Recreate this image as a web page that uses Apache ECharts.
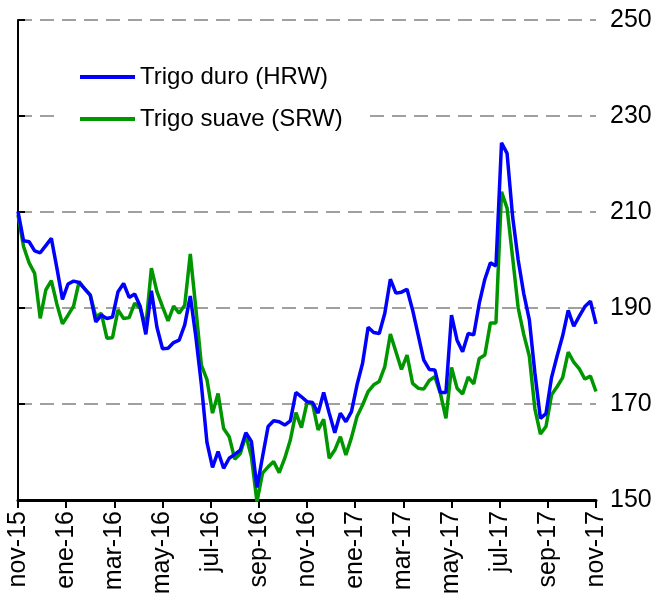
<!DOCTYPE html>
<html>
<head>
<meta charset="utf-8">
<script src="https://cdn.jsdelivr.net/npm/echarts@6/dist/echarts.min.js"></script>
<style>html,body{margin:0;padding:0;background:#fff}#c{width:663px;height:593px}</style>
</head>
<body>
<div id="c"></div>
<script>
var tickLabels = ['nov-15','ene-16','mar-16','may-16','jul-16','sep-16','nov-16','ene-17','mar-17','may-17','jul-17','sep-17','nov-17'];
var seriesNames = ['Trigo duro (HRW)', 'Trigo suave (SRW)'];
// weekly values, nov-15 .. nov-17
var hrw = [210.1,204,203.8,201.9,201.5,203,204.5,198.3,191.8,195,195.6,195.3,194,192.7,187.1,188.5,187.8,188.1,193.4,195.1,
192.2,192.9,190.3,184.5,193.6,186,181.5,181.6,182.8,183.3,186.5,192.5,184,174,162,156.8,160.1,156.6,158.7,159.5,
160.4,164,162.2,152.6,159,165.3,166.5,166.3,165.6,166.5,172.4,171.5,170.5,170.3,168.1,172.4,168.1,164,168.1,166.3,
168.4,174,178.5,186,184.9,184.7,188.9,196,193.1,193.3,193.9,189.6,184.4,179.2,177.2,177.1,172.4,172.4,188.5,183.3,
180.9,184.7,184.4,191,196,199.4,198.75,224.4,222.2,209,200,193,187.6,176.5,167,168,175.5,180,184.2,189.5,
186.2,188.3,190.3,191.4,186.7];
var srw = [209.4,202.8,199.4,197.2,187.85,193.75,195.7,190.8,186.7,188.5,190.4,195.5,194,192.7,188.2,188.9,183.7,183.8,189.6,187.8,
188,191,189.9,186.1,198.3,193.4,190.3,187.3,190.4,188.9,190.6,201.25,189.9,178.1,175.1,168.1,172.2,164.9,163.2,158.5,
159.7,163.5,159,149.65,155.6,156.9,158,155.7,158.7,162.5,168.2,165.1,170.3,170,164.6,166.8,158.7,160.4,163.2,159.4,
163,167.4,169.8,172.6,174,174.7,177.8,184.6,180.9,177.2,180.2,174.3,173.3,173.1,174.9,175.7,172.2,167,177.6,173.3,
172.1,175.6,174.2,179.5,180.2,186.9,186.9,214.2,210.8,200.5,190,184.5,180,169,163.75,165.3,171.9,173.6,175.5,180.8,
178.7,177.3,175.2,175.8,172.6];

function toPairs(arr){ return arr.map(function(v,i){ return [i, v]; }); }
var FONT = 'Liberation Sans';
var chart = echarts.init(document.getElementById('c'), null, {renderer:'canvas'});
chart.setOption({
  animation: false,
  backgroundColor: '#fff',
  grid: {left: 18, right: 67, top: 20, bottom: 93, containLabel: false, outerBoundsMode: 'none'},
  legend: {
    orient: 'vertical', left: 55, top: 57,
    itemWidth: 55, itemHeight: 4, itemGap: 18, icon: 'rect',
    backgroundColor: '#fff', padding: [8, 27, 8, 25],
    textStyle: {fontSize: 24, fontFamily: FONT, color: '#000'},
    data: seriesNames
  },
  xAxis: [
    {type: 'value', min: 0, max: hrw.length - 1, show: false},
    {type: 'value', min: 0, max: tickLabels.length - 1, interval: 1, position: 'bottom',
     axisLine: {show: true, onZero: false, lineStyle: {color: '#000', width: 3}},
     axisTick: {show: true, length: 8, lineStyle: {color: '#000', width: 2}},
     axisLabel: {rotate: 90, margin: 11, fontSize: 25, fontFamily: FONT, color: '#000',
       formatter: function(v){ return tickLabels[Math.round(v)] || ''; }},
     splitLine: {show: false}}
  ],
  yAxis: {
    type: 'value', position: 'right', min: 150, max: 250, interval: 20,
    axisLine: {show: true, lineStyle: {color: '#000', width: 2}},
    axisTick: {show: true, length: 7, lineStyle: {color: '#000', width: 2}},
    axisLabel: {margin: 14, fontSize: 25, fontFamily: FONT, color: '#000'},
    splitLine: {show: true, lineStyle: {type: [14, 8], color: '#a0a0a0', width: 2}}
  },
  series: [
    {name: seriesNames[0], type: 'line', xAxisIndex: 0, data: toPairs(hrw), showSymbol: false,
     color: '#0000ff', lineStyle: {width: 3.5, color: '#0000ff'}, z: 3},
    {name: seriesNames[1], type: 'line', xAxisIndex: 0, data: toPairs(srw), showSymbol: false,
     color: '#009600', lineStyle: {width: 3.5, color: '#009600'}, z: 2}
  ]
});
</script>
</body>
</html>
